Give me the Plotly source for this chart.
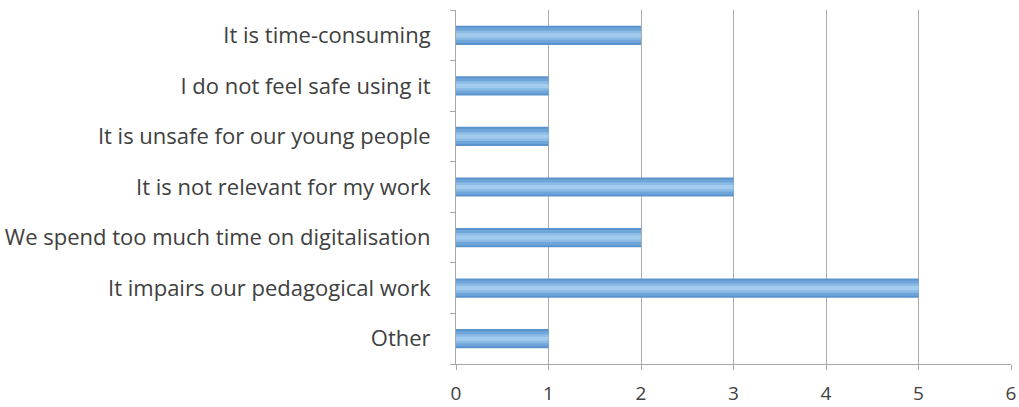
import plotly.graph_objects as go

categories = [
    "It is time-consuming",
    "I do not feel safe using it",
    "It is unsafe for our young people",
    "It is not relevant for my work",
    "We spend too much time on digitalisation",
    "It impairs our pedagogical work",
    "Other",
]
values = [2, 1, 1, 3, 2, 5, 1]
x_ticks = [0, 1, 2, 3, 4, 5, 6]

# simulated vertical gradient: layered bars (outer dark -> inner light)
layers = [
    (0.38, "#5b93cc"),
    (0.30, "#6fa6da"),
    (0.18, "#8cbce6"),
    (0.08, "#a3cbee"),
]

fig = go.Figure()
for w, c in layers:
    fig.add_trace(go.Bar(
        y=categories, x=values, orientation="h",
        width=w, marker=dict(color=c, line=dict(width=0)),
        hoverinfo="x+y", showlegend=False,
    ))

fig.update_layout(
    width=1019, height=407,
    margin=dict(l=456, r=8, t=10, b=43, autoexpand=False),
    paper_bgcolor="white", plot_bgcolor="white",
    barmode="overlay",
    font=dict(family="Open Sans, Liberation Sans, sans-serif", size=22, color="#404040"),
)
fig.update_xaxes(
    range=[0, 6], tickvals=x_ticks, ticktext=[str(t) for t in x_ticks],
    showgrid=True, gridcolor="#acacac", gridwidth=1,
    showline=True, linecolor="#a8a8a8", linewidth=1,
    ticks="outside", ticklen=5, tickcolor="#a8a8a8",
    tickfont=dict(size=19, color="#404040"), zeroline=False,
    ticklabelstandoff=7, automargin=False,
)
fig.update_yaxes(
    categoryorder="array", categoryarray=categories[::-1],
    showline=True, linecolor="#a8a8a8", linewidth=1,
    ticks="outside", ticklen=5, tickcolor="#a8a8a8", tickson="boundaries",
    showgrid=False, tickfont=dict(size=22, color="#404040"),
    ticklabelstandoff=20, automargin=False,
)

fig.write_html(
    "out.html",
    config={"displayModeBar": False},
    post_script="document.body.style.margin='0';document.body.style.overflow='hidden';",
)
